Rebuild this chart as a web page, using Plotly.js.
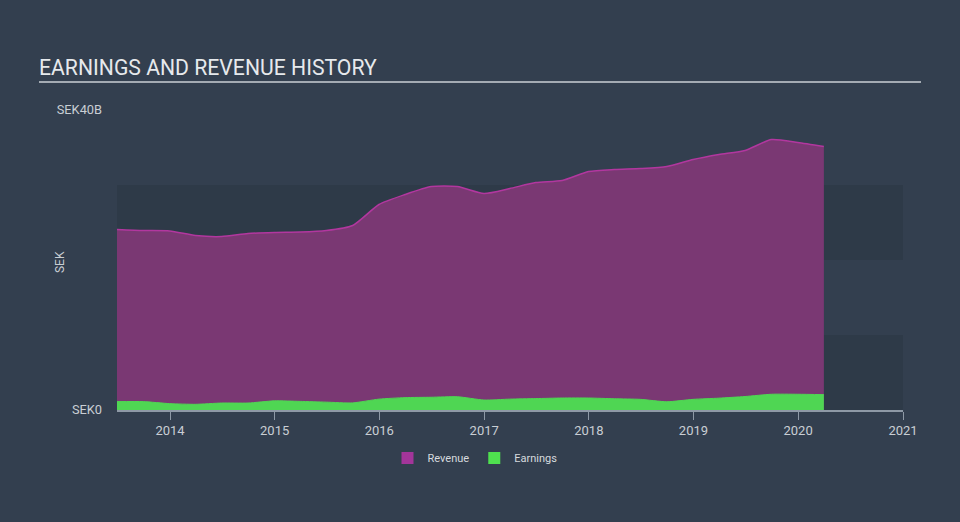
<!DOCTYPE html>
<html>
<head>
<meta charset="utf-8">
<script src="https://cdn.plot.ly/plotly-3.0.1.min.js"></script>
<style>
  html, body { margin: 0; padding: 0; background: #333f4f; }
  #chart { width: 960px; height: 522px; }
</style>
</head>
<body>
<div id="chart"></div>
<script>
// Quarter-end dates
const dates = [
  '2013-06-30','2013-09-30','2013-12-31','2014-03-31','2014-06-30','2014-09-30','2014-12-31',
  '2015-03-31','2015-06-30','2015-09-30','2015-12-31','2016-03-31','2016-06-30','2016-09-30',
  '2016-12-31','2017-03-31','2017-06-30','2017-09-30','2017-12-31','2018-03-31','2018-06-30',
  '2018-09-30','2018-12-31','2019-03-31','2019-06-30','2019-09-30','2019-12-31','2020-03-31'
];
// Revenue (SEK billions)
const revenue = [
  24.07, 23.93, 23.87, 23.27, 23.13, 23.53, 23.67,
  23.73, 23.93, 24.60, 27.40, 28.73, 29.80, 29.80,
  28.87, 29.53, 30.33, 30.60, 31.80, 32.07, 32.20,
  32.47, 33.40, 34.07, 34.60, 36.07, 35.67, 35.13
];
// Earnings (SEK billions)
const earnings = [
  1.12, 1.12, 0.85, 0.76, 0.93, 0.93, 1.22,
  1.15, 1.05, 0.95, 1.45, 1.65, 1.70, 1.77,
  1.33, 1.45, 1.52, 1.60, 1.60, 1.50, 1.42,
  1.10, 1.42, 1.58, 1.80, 2.10, 2.10, 2.05
];
const yTickVals = [0, 40];
const yTickText = ['SEK0', 'SEK40B'];
const seriesNames = ['Revenue', 'Earnings'];

const traces = [
  {
    x: dates, y: revenue, name: seriesNames[0], type: 'scatter', mode: 'lines',
    fill: 'tozeroy', fillcolor: '#7a3873', legendgroup: 'rev', showlegend: false,
    line: { color: '#b2379f', width: 1.5, shape: 'spline', smoothing: 0.6 },
    hoverinfo: 'skip'
  },
  {
    x: dates, y: earnings, name: seriesNames[1], type: 'scatter', mode: 'lines',
    fill: 'tozeroy', fillcolor: '#4fd653', legendgroup: 'earn', showlegend: false,
    line: { color: '#4fd653', width: 1, shape: 'spline', smoothing: 0.6 },
    hoverinfo: 'skip'
  },
  // legend swatches (square keys as in the reference)
  {
    x: [null], y: [null], name: seriesNames[0], type: 'bar', legendgroup: 'rev',
    marker: { color: '#a3359a', line: { width: 0 } }, hoverinfo: 'skip'
  },
  {
    x: [null], y: [null], name: seriesNames[1], type: 'bar', legendgroup: 'earn',
    marker: { color: '#4fe04f', line: { width: 0 } }, hoverinfo: 'skip'
  }
];

const layout = {
  width: 960, height: 522,
  paper_bgcolor: '#333f4f', plot_bgcolor: 'rgba(0,0,0,0)',
  margin: { l: 117, r: 57, t: 110, b: 112 },
  font: { family: 'Roboto, "Open Sans", sans-serif', color: '#c9ced4' },
  title: {
    text: 'EARNINGS AND REVENUE HISTORY',
    font: { size: 21.2, color: '#e6e9ec', family: 'Roboto, sans-serif' },
    xref: 'container', yref: 'container',
    x: 39 / 960, xanchor: 'left', y: 1 - 68 / 522, yanchor: 'middle'
  },
  xaxis: {
    type: 'date', range: ['2013-06-30', '2021-01-01'],
    tick0: '2014-01-01', dtick: 'M12', tickformat: '%Y',
    showgrid: false, zeroline: false,
    showline: true, linecolor: '#8e99a6', linewidth: 1.5,
    ticks: 'outside', ticklen: 8, tickcolor: '#8e99a6', tickwidth: 1,
    tickfont: { size: 13, color: '#c9ced4' },
    fixedrange: true
  },
  yaxis: {
    range: [0, 40], tickvals: yTickVals, ticktext: yTickText,
    showgrid: false, zeroline: false, showline: false, ticks: '',
    ticklabelstandoff: 14,
    tickfont: { size: 12.8, color: '#c9ced4' },
    fixedrange: true
  },
  shapes: [
    { type: 'rect', xref: 'paper', yref: 'y', x0: 0, x1: 1, y0: 0, y1: 10,
      fillcolor: '#2e3a48', line: { width: 0 }, layer: 'below' },
    { type: 'rect', xref: 'paper', yref: 'y', x0: 0, x1: 1, y0: 20, y1: 30,
      fillcolor: '#2e3a48', line: { width: 0 }, layer: 'below' },
    { type: 'line', xref: 'paper', yref: 'paper',
      x0: (39 - 117) / 786, x1: (921 - 117) / 786,
      y0: (410 - 82) / 300, y1: (410 - 82) / 300,
      line: { color: '#a4abb3', width: 2 } }
  ],
  annotations: [
    { text: 'SEK', xref: 'paper', yref: 'paper',
      x: (60 - 117) / 786, y: (410 - 262) / 300, textangle: -90,
      showarrow: false, font: { size: 12, color: '#c9ced4' },
      xanchor: 'center', yanchor: 'middle' }
  ],
  legend: {
    orientation: 'h', xref: 'paper', yref: 'paper',
    x: (475 - 117) / 786, xanchor: 'center',
    y: (410 - 458) / 300, yanchor: 'middle',
    font: { size: 11, color: '#d6dade' },
    bgcolor: 'rgba(0,0,0,0)', itemwidth: 30, traceorder: 'normal'
  },
  showlegend: true,
  hovermode: false
};

Plotly.newPlot('chart', traces, layout, { displayModeBar: false, staticPlot: true });
</script>
</body>
</html>
